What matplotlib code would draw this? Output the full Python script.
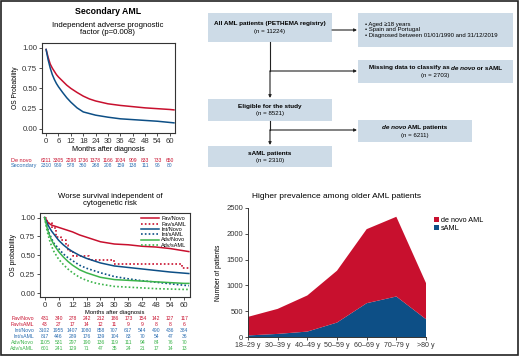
import matplotlib
matplotlib.use("Agg")
import matplotlib.pyplot as plt
import matplotlib.transforms as mtransforms
from matplotlib.patches import Rectangle
from matplotlib.offsetbox import TextArea, HPacker, AnnotationBbox

plt.rcParams['font.family'] = ['Liberation Sans', 'DejaVu Sans']
NARROW = ['Liberation Sans Narrow', 'Liberation Sans', 'DejaVu Sans']

RED = '#c8102e'
BLUE = '#0d4f86'
BLUE_TXT = '#2a6cb0'
GREEN = '#3cb44b'
BOX = '#cddbe7'

# ---- top KM: de novo vs secondary
months_top = [0, 1, 2, 3, 4, 5, 6, 8, 10, 12, 15, 18, 21, 24, 30, 36, 42, 48, 54, 60, 62]
denovo_os = [0.98, 0.88, 0.80, 0.75, 0.71, 0.67, 0.64, 0.59, 0.54, 0.50, 0.45, 0.405,
             0.37, 0.345, 0.31, 0.29, 0.275, 0.26, 0.25, 0.24, 0.235]
secondary_os = [0.98, 0.85, 0.75, 0.67, 0.61, 0.56, 0.52, 0.45, 0.385, 0.33, 0.26, 0.21,
                0.19, 0.17, 0.145, 0.125, 0.115, 0.105, 0.095, 0.08, 0.075]
risk_months = [0, 6, 12, 18, 24, 30, 36, 42, 48, 54, 60]
risk_denovo = [6211, 3305, 2298, 1736, 1378, 1166, 1034, 909, 833, 733, 650]
risk_secondary = [2310, 969, 578, 360, 268, 208, 159, 138, 111, 96, 80]

# ---- bottom KM: by cytogenetic risk
months_bot = [0, 1, 2, 3, 4, 6, 8, 10, 12, 15, 18, 21, 24, 30, 36, 42, 48, 54, 60, 62]
fav_novo = [1.0, 0.95, 0.92, 0.90, 0.89, 0.87, 0.85, 0.83, 0.81, 0.77, 0.74, 0.71, 0.68,
            0.65, 0.64, 0.62, 0.61, 0.59, 0.56, 0.55]
int_novo = [1.0, 0.93, 0.87, 0.82, 0.78, 0.70, 0.64, 0.59, 0.55, 0.50, 0.46, 0.43, 0.40,
            0.36, 0.34, 0.32, 0.30, 0.28, 0.265, 0.26]
int_saml = [1.0, 0.88, 0.79, 0.72, 0.66, 0.59, 0.52, 0.47, 0.43, 0.37, 0.33, 0.30, 0.27,
            0.22, 0.19, 0.165, 0.145, 0.125, 0.105, 0.10]
adv_novo = [1.0, 0.87, 0.77, 0.70, 0.64, 0.55, 0.48, 0.42, 0.37, 0.31, 0.27, 0.24, 0.21,
            0.18, 0.17, 0.16, 0.15, 0.14, 0.13, 0.13]
adv_saml = [1.0, 0.83, 0.71, 0.62, 0.55, 0.45, 0.38, 0.32, 0.27, 0.21, 0.17, 0.14, 0.12,
            0.09, 0.08, 0.07, 0.06, 0.055, 0.05, 0.05]
fav_saml_months = [0, 1, 3, 5, 7, 9, 10, 12, 19, 30, 59, 62]
fav_saml = [1.0, 0.93, 0.86, 0.74, 0.70, 0.64, 0.56, 0.49, 0.44, 0.39, 0.33, 0.33]

risk_groups = ['Fav/Novo', 'Fav/sAML', 'Int/Novo', 'Int/sAML', 'Adv/Novo', 'Adv/sAML']
risk_table = [
    [431, 340, 278, 242, 212, 186, 173, 154, 142, 127, 117],
    [43, 27, 17, 14, 12, 11, 9, 9, 8, 8, 6],
    [3102, 1955, 1407, 1080, 858, 707, 617, 544, 490, 436, 384],
    [817, 446, 289, 176, 139, 104, 83, 70, 54, 47, 36],
    [1105, 531, 297, 190, 136, 119, 111, 94, 84, 76, 70],
    [601, 241, 129, 71, 47, 35, 24, 21, 17, 14, 13],
]

# ---- area chart by age
age_groups = ['18\u201329 y', '30\u201339 y', '40\u201349 y', '50\u201359 y', '60\u201369 y',
              '70\u201379 y', '>80 y']
saml_counts = [30, 60, 105, 280, 655, 785, 345]
denovo_counts = [360, 485, 700, 1005, 1435, 1545, 700]

W, H = 520, 356
fig = plt.figure(figsize=(W / 100, H / 100), dpi=100)


def px_axes(x0, y0, x1, y1, **kw):
    return fig.add_axes([x0 / W, 1 - y1 / H, (x1 - x0) / W, (y1 - y0) / H], **kw)


def style_km(ax):
    ax.set_xlim(-2, 62.5)
    ax.set_ylim(-0.05, 1.06)
    ax.set_xticks(risk_months)
    ax.set_yticks([0, 0.25, 0.5, 0.75, 1.0])
    ax.set_yticklabels(['0.00', '0.25', '0.50', '0.75', '1.00'])
    ax.tick_params(labelsize=5.6, length=2, width=0.6, pad=1.5, colors='#333333')
    for s in ax.spines.values():
        s.set_linewidth(0.8)
        s.set_color('#333333')


# ---------- top-left KM
ax1 = px_axes(42, 43, 175, 133)
ax1.plot(months_top, denovo_os, color=RED, lw=1.1)
ax1.plot(months_top, secondary_os, color=BLUE, lw=1.1)
style_km(ax1)
ax1.set_xlabel('Months after diagnosis', fontsize=5.2, family=NARROW, labelpad=1)
ax1.set_ylabel('OS Probability', fontsize=4.8, family=NARROW, labelpad=2)
fig.text(108 / W, 1 - 11 / H, 'Secondary AML', fontsize=6.3, weight='bold',
         ha='center', va='center')
fig.text(108 / W, 1 - 29 / H, 'Independent adverse prognostic\nfactor (p=0.008)',
         fontsize=5.6, ha='center', va='center', linespacing=1.15)

tr1 = mtransforms.blended_transform_factory(ax1.transData, fig.transFigure)
for vals, col, name, yy in [(risk_denovo, RED, 'De novo', 160),
                            (risk_secondary, BLUE_TXT, 'Secondary', 166)]:
    fig.text(11 / W, 1 - yy / H, name, color=col, fontsize=4, va='center')
    for m, v in zip(risk_months, vals):
        ax1.text(m, 1 - yy / H, str(v), transform=tr1, color=col, fontsize=3.6,
                 family=NARROW, ha='center', va='center')

# ---------- bottom-left KM
ax2 = px_axes(40, 213, 190, 297)
dot = (0, (1, 1.3))
ax2.plot(months_bot, fav_novo, color=RED, lw=1.1, label='Fav/Novo')
ax2.step(fav_saml_months, fav_saml, where='post', color=RED, lw=1.2, ls=dot, label='Fav/sAML')
ax2.plot(months_bot, int_novo, color=BLUE, lw=1.1, label='Int/Novo')
ax2.plot(months_bot, int_saml, color=BLUE, lw=1.2, ls=dot, label='Int/sAML')
ax2.plot(months_bot, adv_novo, color=GREEN, lw=1.1, label='Adv/Novo')
ax2.plot(months_bot, adv_saml, color=GREEN, lw=1.2, ls=dot, label='Adv/sAML')
style_km(ax2)
ax2.set_xlabel('Months after diagnosis', fontsize=4.2, family=NARROW, labelpad=1)
ax2.set_ylabel('OS probability', fontsize=4.8, family=NARROW, labelpad=2)
ax2.legend(loc='upper right', fontsize=4, frameon=False, handlelength=3.2,
           labelspacing=0.05, borderaxespad=0.2, handletextpad=0.4)
fig.text(110 / W, 1 - 200 / H, 'Worse survival independent of\ncytogenetic risk',
         fontsize=5.6, ha='center', va='center', linespacing=1.15)

tr2 = mtransforms.blended_transform_factory(ax2.transData, fig.transFigure)
row_cols = [RED, RED, BLUE_TXT, BLUE_TXT, GREEN, GREEN]
for i, (name, vals) in enumerate(zip(risk_groups, risk_table)):
    yy = 318 + 6 * i
    fig.text(34 / W, 1 - yy / H, name, color=row_cols[i], fontsize=3.8, family=NARROW,
             ha='right', va='center')
    for m, v in zip(risk_months, vals):
        ax2.text(m, 1 - yy / H, str(v), transform=tr2, color=row_cols[i], fontsize=3.6,
                 family=NARROW, ha='center', va='center')

# ---------- flowchart
axf = px_axes(0, 0, W, H)
axf.set_xlim(0, W)
axf.set_ylim(H, 0)
axf.axis('off')
BFS = 4.6


def box(x0, y0, x1, y1, parts, count):
    axf.add_patch(Rectangle((x0, y0), x1 - x0, y1 - y0, fc=BOX, ec='none'))
    cx, cy = (x0 + x1) / 2, (y0 + y1) / 2
    areas = [TextArea(t, textprops=dict(fontsize=BFS, weight='bold', style=st))
             for t, st in parts]
    pack = HPacker(children=areas, pad=0, sep=0, align='baseline')
    axf.add_artist(AnnotationBbox(pack, (cx, cy - 3.5), frameon=False, pad=0,
                                  box_alignment=(0.5, 0.5)))
    axf.text(cx, cy + 4, count, ha='center', va='center', fontsize=4.4)


def arrow(x0, y0, x1, y1):
    axf.annotate('', xy=(x1, y1), xytext=(x0, y0),
                 arrowprops=dict(arrowstyle='-|>', lw=0.8, color='#222222',
                                 mutation_scale=4, shrinkA=0, shrinkB=0))


box(208, 13, 332, 42, [('All AML patients (PETHEMA registry)', 'normal')], '(n = 11224)')
axf.add_patch(Rectangle((358, 13), 155, 34, fc=BOX, ec='none'))
axf.text(365, 30, '\u2022 Aged \u226518 years\n\u2022 Spain and Portugal\n'
         '\u2022 Diagnosed between 01/01/1990 and 31/12/2019',
         fontsize=4.3, va='center', ha='left', linespacing=1.2)
box(358, 60, 513, 83, [('Missing data to classify as ', 'normal'), ('de novo', 'italic'),
                       (' or sAML', 'normal')], '(n = 2703)')
box(208, 99, 332, 121, [('Eligible for the study', 'normal')], '(n = 8521)')
box(358, 120, 472, 142, [('de novo', 'italic'), (' AML patients', 'normal')], '(n = 6211)')
box(208, 146, 332, 167, [('sAML patients', 'normal')], '(n = 2310)')

arrow(332, 30, 357, 30)
axf.plot([270, 270], [42, 71], color='#222222', lw=0.8)
arrow(270, 71, 357, 71)
arrow(270, 71, 270, 98)
axf.plot([270, 270], [121, 130], color='#222222', lw=0.8)
arrow(270, 130, 357, 130)
arrow(270, 130, 270, 145)

# ---------- area chart
ax3 = px_axes(248, 208, 426, 337)
x = range(len(age_groups))
ax3.stackplot(x, saml_counts, denovo_counts, colors=[BLUE, RED],
              labels=['sAML', 'de novo AML'], lw=0)
ax3.set_xlim(0, len(age_groups) - 1)
ax3.set_ylim(0, 2500)
ax3.set_xticks(list(x))
ax3.set_xticklabels(age_groups, fontsize=5.1)
ax3.set_yticks([0, 500, 1000, 1500, 2000, 2500])
ax3.tick_params(axis='y', labelsize=5.5)
ax3.tick_params(length=2, width=0.6, pad=1.5, colors='#333333')
for s in ['top', 'right']:
    ax3.spines[s].set_visible(False)
for s in ['left', 'bottom']:
    ax3.spines[s].set_linewidth(0.7)
    ax3.spines[s].set_color('#333333')
ax3.set_ylabel('Number of patients', fontsize=4.8, family=NARROW, labelpad=3)
h, l = ax3.get_legend_handles_labels()
ax3.legend(h[::-1], l[::-1], loc='upper left', bbox_to_anchor=(1.03, 0.95), fontsize=5.2,
           frameon=False, handlelength=0.6, handleheight=0.7, handletextpad=0.3,
           labelspacing=0.1, borderaxespad=0)
fig.text(337 / W, 1 - 197 / H, 'Higher prevalence among older AML patients',
         fontsize=6, ha='center', va='center')

# frame
fig.patches.append(Rectangle((0.002, 0.003), 0.994, 0.993, transform=fig.transFigure,
                             fill=False, ec='#222222', lw=1.2))

fig.savefig('out.png', dpi=100)
